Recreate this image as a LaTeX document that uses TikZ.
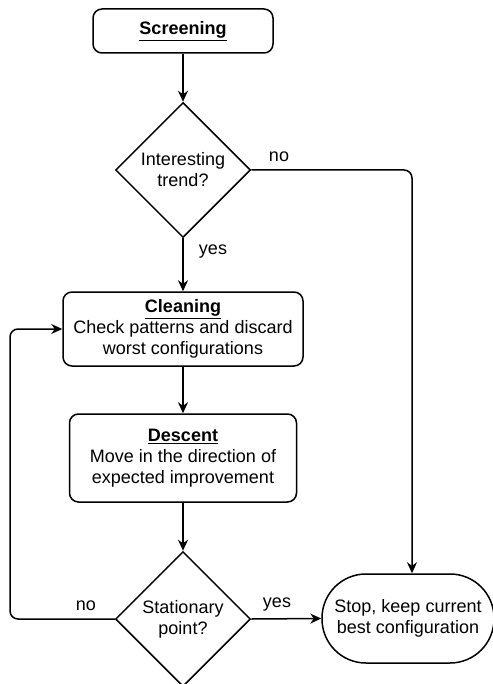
\documentclass[tikz,border=0pt]{standalone}
\usepackage{fontspec}
\setmainfont{Liberation Sans}
\usetikzlibrary{shapes.geometric,arrows.meta}
\begin{document}
\begin{tikzpicture}[x=1pt,y=-1pt,
  every node/.style={font=\fontsize{18}{21}\selectfont},
  box/.style={draw,line width=1.5pt,rounded corners=9pt,align=center,inner sep=0pt},
  decision/.style={draw,line width=1.5pt,diamond,aspect=1,minimum width=135pt,minimum height=135pt,inner sep=0pt,align=center},
  term/.style={draw,line width=1.5pt,rounded corners=44pt,align=center,inner sep=0pt,minimum width=172pt,minimum height=89pt},
  arr/.style={line width=1.5pt,-{Stealth[length=11pt,width=10pt]}},
  lbl/.style={inner sep=0pt}]
\useasboundingbox (0,0) rectangle (492,684);
\node[box,minimum width=180pt,minimum height=44pt] (screen) at (183,31) {\underline{\textbf{Screening}}};
\node[decision] (d1) at (183,170) {Interesting\\trend?};
\node[box,minimum width=240pt,minimum height=74pt] (clean) at (183,329) {\underline{\textbf{Cleaning}}\\Check patterns and discard\\worst configurations};
\node[box,minimum width=227pt,minimum height=88pt] (desc) at (183,458) {\underline{\textbf{Descent}}\\Move in the direction of\\expected improvement};
\node[decision] (d2) at (183,619) {Stationary\\point?};
\node[term] (stop) at (408,618.5) {Stop, keep current\\best configuration};
\coordinate (loopL) at (10,619);
\draw[arr] (screen.south) -- (d1.north);
\draw[arr] (d1.south) -- (clean.north);
\draw[arr] (clean.south) -- (desc.north);
\draw[arr] (desc.south) -- (d2.north);
\draw[arr,rounded corners=8pt] (d1.east) -| ([xshift=4pt]stop.north);
\draw[arr] (d2.east) -- (stop.west);
\draw[arr,rounded corners=8pt] (d2.west) -- (loopL) |- (clean.west);
\node[lbl] (lno1) at (279,157) {no};
\node[lbl] (lyes1) at (213,252) {yes};
\node[lbl] (lno2) at (86,606) {no};
\node[lbl] (lyes2) at (277,605) {yes};
\end{tikzpicture}
\end{document}
